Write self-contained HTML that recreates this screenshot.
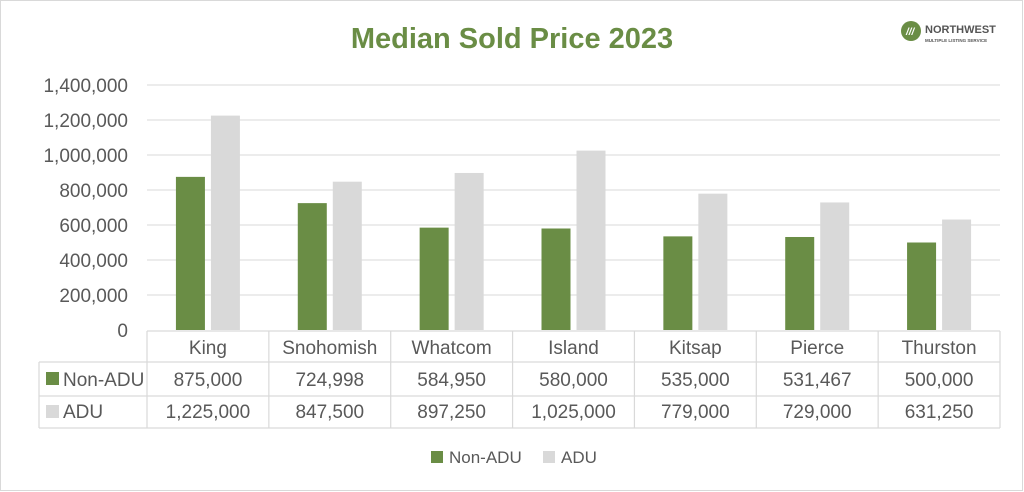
<!DOCTYPE html>
<html><head><meta charset="utf-8"><style>
html,body{margin:0;padding:0;background:#fff}
svg{display:block;font-family:"Liberation Sans",Arial,sans-serif}
</style></head><body>
<svg width="1024" height="492" viewBox="0 0 1024 492" xmlns="http://www.w3.org/2000/svg">
<rect x="0.5" y="0.5" width="1022" height="490" fill="#fff" stroke="#d9d9d9"/>
<text x="512" y="48" text-anchor="middle" font-size="29" font-weight="bold" fill="#6a8d45">Median Sold Price 2023</text>
<circle cx="911" cy="31" r="10" fill="#6a8d45"/>
<text x="906" y="35" font-size="10" fill="#fff" font-style="italic" font-weight="bold">///</text>
<text x="925" y="33" font-size="11" fill="#555" font-weight="bold">NORTHWEST</text>
<text x="925" y="42" font-size="4.5" fill="#555" font-weight="bold">MULTIPLE LISTING SERVICE</text>
<g stroke="#d9d9d9" stroke-width="1">
<line x1="147" y1="85" x2="1000" y2="85"/><line x1="147" y1="120" x2="1000" y2="120"/>
<line x1="147" y1="155" x2="1000" y2="155"/><line x1="147" y1="190" x2="1000" y2="190"/>
<line x1="147" y1="225" x2="1000" y2="225"/><line x1="147" y1="260" x2="1000" y2="260"/>
<line x1="147" y1="295" x2="1000" y2="295"/>
</g>
<g font-size="19" fill="#595959" text-anchor="end">
<text x="128" y="92">1,400,000</text><text x="128" y="127">1,200,000</text>
<text x="128" y="162">1,000,000</text><text x="128" y="197">800,000</text>
<text x="128" y="232">600,000</text><text x="128" y="267">400,000</text>
<text x="128" y="302">200,000</text><text x="128" y="337">0</text>
</g>
<g id="bars"></g>
<g stroke="#d9d9d9" stroke-width="1.2" fill="none">
<line x1="147" y1="331" x2="1000" y2="331"/>
<line x1="39" y1="362" x2="1000" y2="362"/>
<line x1="39" y1="396" x2="1000" y2="396"/>
<line x1="39" y1="428" x2="1000" y2="428"/>
<line x1="39" y1="362" x2="39" y2="428"/>
<line x1="1000" y1="331" x2="1000" y2="428"/>
</g>
<rect x="46" y="372" width="13" height="13" fill="#6a8d45"/>
<rect x="46" y="405" width="13" height="13" fill="#d9d9d9"/>
<text x="63" y="386" font-size="19" fill="#595959">Non-ADU</text>
<text x="63" y="418" font-size="19" fill="#595959">ADU</text>
<rect x="431" y="451" width="12" height="12" fill="#6a8d45"/>
<text x="449" y="463" font-size="17" fill="#595959">Non-ADU</text>
<rect x="543" y="451" width="12" height="12" fill="#d9d9d9"/>
<text x="561" y="463" font-size="17" fill="#595959">ADU</text>
<script>
(function(){
var ns="http://www.w3.org/2000/svg",svg=document.querySelector("svg");
var cats=["King","Snohomish","Whatcom","Island","Kitsap","Pierce","Thurston"];
var a=[875000,724998,584950,580000,535000,531467,500000];
var b=[1225000,847500,897250,1025000,779000,729000,631250];
var fmt=function(n){return n.toLocaleString("en-US");};
var w=(1000-147)/7,k=245/1400000;
var g=document.getElementById("bars");
function el(t,at,txt,p){var e=document.createElementNS(ns,t);for(var i in at)e.setAttribute(i,at[i]);if(txt!=null)e.textContent=txt;(p||svg).appendChild(e);return e;}
for(var i=0;i<7;i++){
 var c=147+w*(i+0.5);
 el("rect",{x:c-32,y:330-a[i]*k,width:29,height:a[i]*k,fill:"#6a8d45"},null,g);
 el("rect",{x:c+3,y:330-b[i]*k,width:29,height:b[i]*k,fill:"#d9d9d9"},null,g);
 el("line",{x1:147+w*i,y1:331,x2:147+w*i,y2:428,stroke:"#d9d9d9","stroke-width":1.2});
 el("text",{x:c,y:354,"font-size":19,fill:"#595959","text-anchor":"middle"},cats[i]);
 el("text",{x:c,y:386,"font-size":19,fill:"#595959","text-anchor":"middle"},fmt(a[i]));
 el("text",{x:c,y:418,"font-size":19,fill:"#595959","text-anchor":"middle"},fmt(b[i]));
}
})();
</script>
</svg>
</body></html>
